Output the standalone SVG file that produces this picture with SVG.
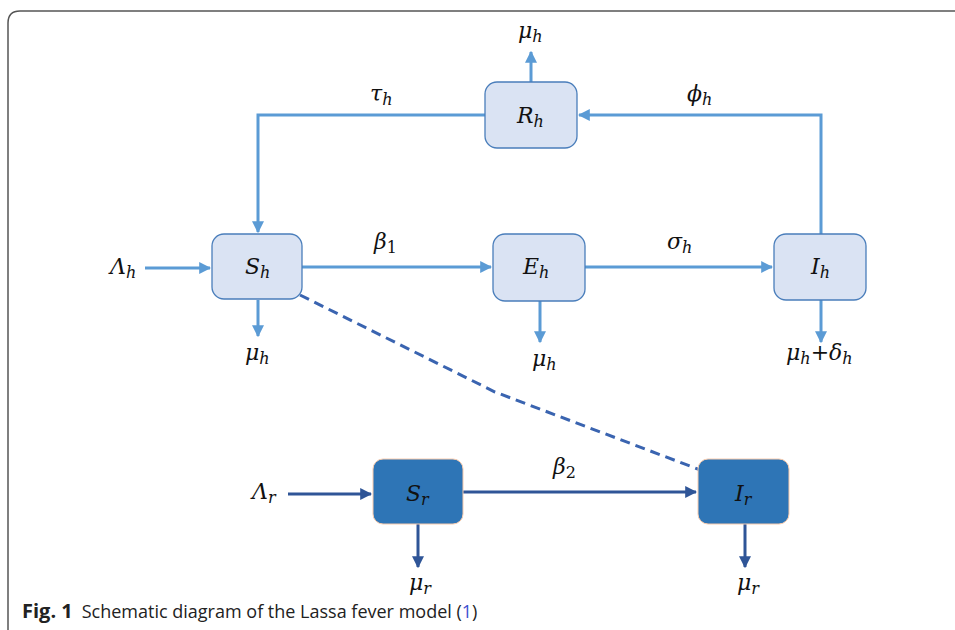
<svg xmlns="http://www.w3.org/2000/svg" width="955" height="630" viewBox="0 0 955 630">
<defs>
<style>
.lb{fill:#dae3f3;stroke:#4a7ebb;stroke-width:1.3}
.db{fill:#2e75b6;stroke:#f8cbad;stroke-width:1}
.ll{fill:none;stroke:#5b9bd5;stroke-width:3}
.dl{fill:none;stroke:#2f5597;stroke-width:3}
.m{font-family:"DejaVu Serif","Liberation Serif",serif;font-style:italic;font-size:22px;fill:#111}
.s{font-size:16px}
.n{font-style:normal}
.cap{font-family:"Open Sans","Noto Sans","Liberation Sans",sans-serif;font-size:18px;fill:#222}
</style>
<marker id="al" viewBox="0 0 10 10" refX="9" refY="5" markerWidth="4" markerHeight="4" orient="auto" markerUnits="strokeWidth"><path d="M0,0 L10,5 L0,10 z" fill="#5b9bd5"/></marker>
<marker id="ad" viewBox="0 0 10 10" refX="9" refY="5" markerWidth="4" markerHeight="4" orient="auto" markerUnits="strokeWidth"><path d="M0,0 L10,5 L0,10 z" fill="#2f5597"/></marker>
</defs>
<rect width="955" height="630" fill="#fff"/>
<path d="M8,640 L8,23 Q8,11 20,11 L960,11" fill="none" stroke="#555" stroke-width="1.5"/>
<g id="connectors">
<path class="ll" d="M485,115 L258,115 L258,232" marker-end="url(#al)"/>
<path class="ll" d="M821,234 L821,115 L579,115" marker-end="url(#al)"/>
<path class="ll" d="M531,82 L531,52" marker-end="url(#al)"/>
<path class="ll" d="M145,268 L210,268" marker-end="url(#al)"/>
<path class="ll" d="M302,267 L491,267" marker-end="url(#al)"/>
<path class="ll" d="M585,267 L772,267" marker-end="url(#al)"/>
<path class="ll" d="M258,300 L258,336" marker-end="url(#al)"/>
<path class="ll" d="M540,301 L540,342" marker-end="url(#al)"/>
<path class="ll" d="M821,300 L821,342" marker-end="url(#al)"/>
<path d="M300,295 L495,392 L703,471" fill="none" stroke="#3a64b0" stroke-width="3" stroke-dasharray="10,6"/>
<path class="dl" d="M288,494 L371,494" marker-end="url(#ad)"/>
<path class="dl" d="M463,492 L696,492" marker-end="url(#ad)"/>
<path class="dl" d="M418,524 L418,567" marker-end="url(#ad)"/>
<path class="dl" d="M745,524 L745,567" marker-end="url(#ad)"/>
</g>
<g id="Sh"><rect class="lb" x="212" y="234" width="90" height="65" rx="12"/><text class="m" x="245" y="274">S<tspan class="s" dy="4">h</tspan></text></g>
<g id="Rh"><rect class="lb" x="485" y="82" width="92" height="66" rx="12"/><text class="m" x="517" y="123">R<tspan class="s" dy="4">h</tspan></text></g>
<g id="Eh"><rect class="lb" x="493" y="234" width="92" height="67" rx="12"/><text class="m" x="523" y="274">E<tspan class="s" dy="4">h</tspan></text></g>
<g id="Ih"><rect class="lb" x="774" y="234" width="92" height="66" rx="12"/><text class="m" x="811" y="274">I<tspan class="s" dy="4">h</tspan></text></g>
<g id="Sr"><rect class="db" x="373" y="459" width="90" height="65" rx="10"/><text class="m" x="406" y="501">S<tspan class="s" dy="4">r</tspan></text></g>
<g id="Ir"><rect class="db" x="698" y="459" width="91" height="65" rx="10"/><text class="m" x="735" y="501">I<tspan class="s" dy="4">r</tspan></text></g>
<g id="labels">
<text class="m" x="518" y="38">μ<tspan class="s" dy="4">h</tspan></text>
<text class="m" x="370" y="101">τ<tspan class="s" dy="4">h</tspan></text>
<text class="m" x="687" y="101">ϕ<tspan class="s" dy="4">h</tspan></text>
<text class="m" x="110" y="274">Λ<tspan class="s" dy="4">h</tspan></text>
<text class="m" x="374" y="249">β<tspan class="s n" dy="4">1</tspan></text>
<text class="m" x="667" y="249">σ<tspan class="s" dy="4">h</tspan></text>
<text class="m" x="245" y="360">μ<tspan class="s" dy="4">h</tspan></text>
<text class="m" x="532" y="366">μ<tspan class="s" dy="4">h</tspan></text>
<text class="m" x="786" y="360">μ<tspan class="s" dy="4">h</tspan><tspan class="n" dy="-4">+</tspan>δ<tspan class="s" dy="4">h</tspan></text>
<text class="m" x="252" y="499">Λ<tspan class="s" dy="4">r</tspan></text>
<text class="m" x="553" y="474">β<tspan class="s n" dy="4">2</tspan></text>
<text class="m" x="409" y="590">μ<tspan class="s" dy="4">r</tspan></text>
<text class="m" x="737" y="590">μ<tspan class="s" dy="4">r</tspan></text>
</g>
<text class="cap" x="22" y="618"><tspan font-weight="bold" font-size="20">Fig. 1</tspan><tspan dx="9">Schematic diagram of the Lassa fever model (</tspan><tspan fill="#3b50d0">1</tspan>)</text>
</svg>
